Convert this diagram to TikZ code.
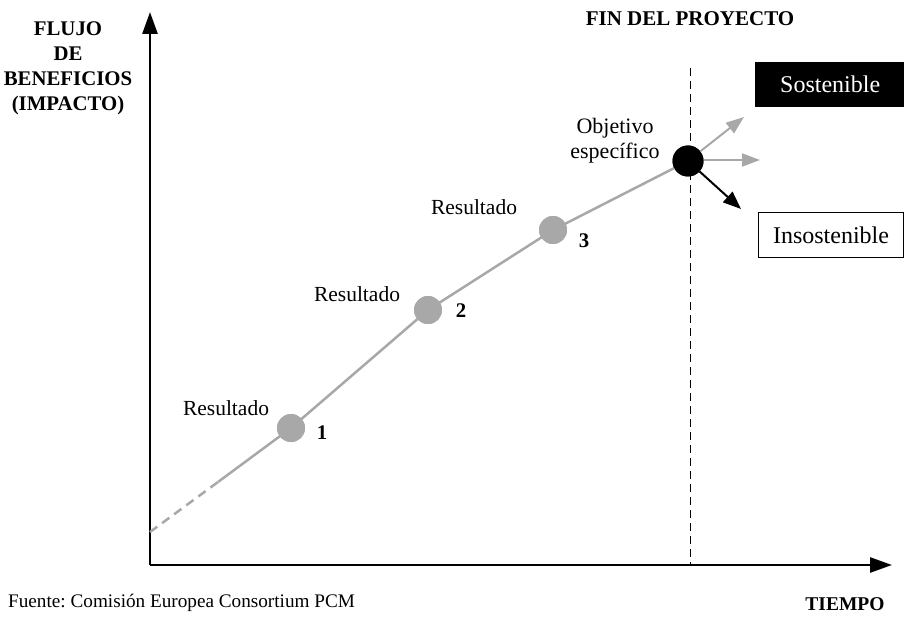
\documentclass[tikz,border=0pt]{standalone}
\usepackage{fontspec}
\setmainfont{Liberation Serif}
\usetikzlibrary{arrows.meta}
\definecolor{lgray}{HTML}{A8A8A8}
\frenchspacing
\begin{document}
\begin{tikzpicture}[x=1pt,y=-1pt,
  lbl/.style={font=\fontsize{21.5}{25}\selectfont, inner sep=0pt},
  boxlbl/.style={font=\fontsize{24}{28}\selectfont, inner sep=0pt},
  blbl/.style={font=\fontsize{20.8}{25}\selectfont\bfseries, inner sep=0pt, align=center},
  res/.style={circle, fill=lgray, minimum size=28pt, inner sep=0pt},
  axis/.style={line width=2.6pt, -{Triangle[length=22pt,width=15pt]}},
  garrow/.style={lgray, line width=2pt, -{Triangle[length=18pt,width=13pt]}},
  barrow/.style={black, line width=2pt, -{Triangle[length=18pt,width=14pt]}},
  gline/.style={lgray, line width=2.5pt}]
\useasboundingbox (0,0) rectangle (904,620);
% axes
\coordinate (O) at (150,565);
\coordinate (Ytop) at (150,12);
\coordinate (Xend) at (892,565);
\draw[axis] (O) -- (Ytop);
\draw[axis] (O) -- (Xend);
% dashed end-of-project line
\coordinate (Dtop) at (690,68);
\coordinate (Dbot) at (690,565);
\draw[line width=1pt, dash pattern=on 8pt off 5pt] (Dtop) -- (Dbot);
% points
\coordinate (S) at (150,532);
\coordinate (M) at (218,482);
\node[res] (r1) at (291,428) {};
\node[res] (r2) at (428,310) {};
\node[res] (r3) at (553,230) {};
\node[circle, fill=black, minimum size=31pt, inner sep=0pt] (obj) at (688,161) {};
\draw[gline, dash pattern=on 9pt off 6pt] (S) -- (M);
\draw[gline] (M) -- (r1.center) -- (r2.center) -- (r3.center) -- (obj.center);
\node[res] at (r1) {};
\node[res] at (r2) {};
\node[res] at (r3) {};
\node[circle, fill=black, minimum size=31pt, inner sep=0pt] at (obj) {};
% arrows
\coordinate (a1) at (744,117);
\coordinate (a2) at (760,160);
\coordinate (a3) at (741,209);
\draw[garrow] (obj) -- (a1);
\draw[garrow] (obj.east |- a2) -- (a2);
\draw[barrow] (obj) -- (a3);
% boxes
\node[fill=black, text=white, boxlbl, minimum width=150pt, minimum height=45pt, anchor=north west] (sost) at (755,62) {Sostenible};
\node[draw=black, line width=1pt, boxlbl, minimum width=145pt, minimum height=45pt, anchor=north west] (insost) at (758,212) {Insostenible};
% labels
\node[blbl] (flujo) at (68,68) {FLUJO\\DE\\BENEFICIOS\\(IMPACTO)};
\node[blbl, font=\fontsize{21}{25}\selectfont\bfseries] (fin) at (690,19) {FIN DEL PROYECTO};
\node[lbl, align=center, font=\fontsize{22}{25}\selectfont] (objl) at (615,141) {Objetivo\\específico};
\node[lbl] (t3) at (474,207) {Resultado};
\node[blbl] (n3) at (584,241) {3};
\node[lbl] (t2) at (357,294) {Resultado};
\node[blbl] (n2) at (461,311) {2};
\node[lbl] (t1) at (226,408) {Resultado};
\node[blbl] (n1) at (322,433) {1};
\node[lbl, anchor=west, font=\fontsize{19.2}{22}\selectfont] (src) at (8,603) {Fuente: Comisión Europea Consortium PCM};
\node[blbl, font=\fontsize{19.5}{25}\selectfont\bfseries] (tiempo) at (845,604) {TIEMPO};
\end{tikzpicture}
\end{document}
